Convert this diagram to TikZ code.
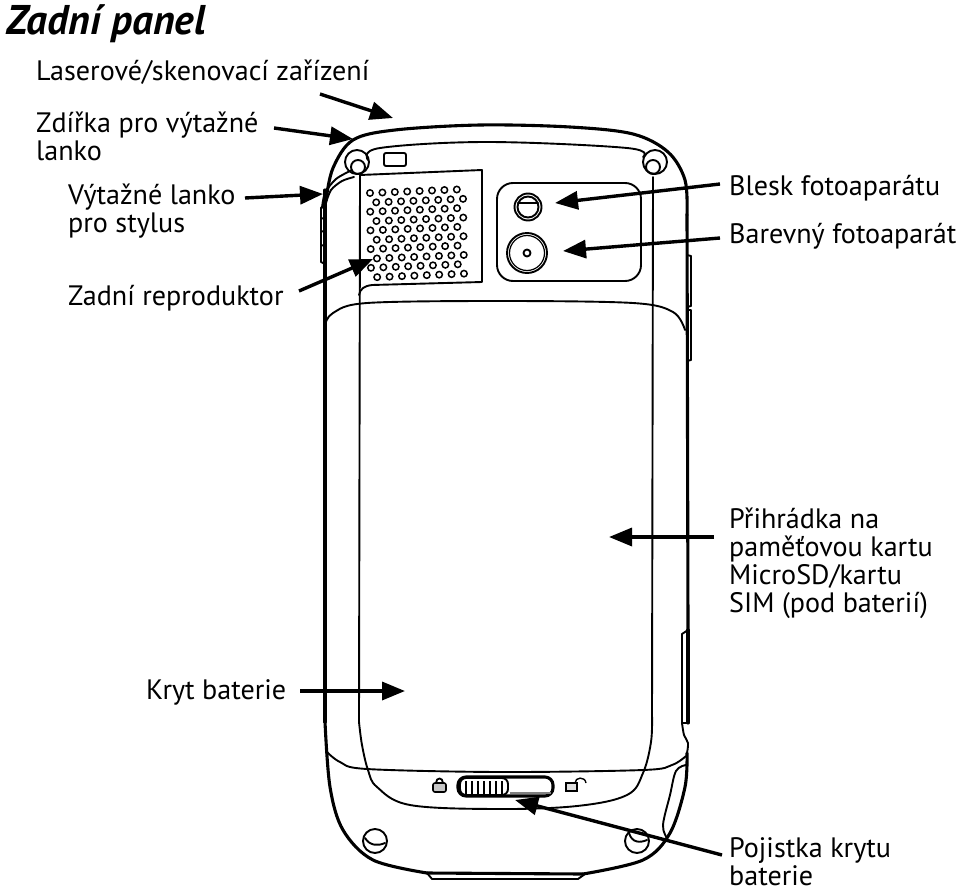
\documentclass[tikz,border=0pt]{standalone}
\usepackage{fontspec}
\setmainfont{PT Sans}
\usetikzlibrary{arrows.meta}
\tikzset{
  lbl/.style={inner sep=0pt,anchor=base west,align=left,font=\fontsize{28.1}{28}\selectfont},
  callout/.style={line width=3.4pt,-{Triangle[length=23pt,width=18pt]},black},
  outline/.style={line width=3.1pt,line join=round,line cap=round,black},
  medline/.style={line width=1.9pt,line join=round,line cap=round,black},
  thinl/.style={line width=1.2pt,line join=round,line cap=round,black},
}
\begin{document}
\begin{tikzpicture}[x=1pt,y=-1pt]
\useasboundingbox (0,0) rectangle (960,891);
% body outline
\draw[outline] plot[smooth,tension=.55] coordinates {(326,200) (333,168) (353,140) (395,130) (480,125) (570,127) (633,134) (668,152) (685,180) (687,215)};
\draw[outline] (687,215) -- (688,630);
\draw[outline] (325,190) -- (325,722);
\draw[outline] plot[smooth,tension=.55] coordinates {(325,722) (330,787) (343,830) (373,860) (427,873)};
\draw[outline] (427,873) -- (583,874);
\draw[outline] plot[smooth,tension=.55] coordinates {(583,874) (643,860) (670,833) (685,787) (687,753)};
\draw[medline] (427,873) -- (432,879) -- (578,879) -- (585,874);
% right side details
\draw[medline] (687,255) -- (691,256) -- (691,306) -- (687,307) (687,310) -- (691,310) -- (691,360) -- (687,361);
\draw[medline] (688,630) -- (682,634) -- (682,723) -- (688,723);
\draw[outline] (688,630) -- (688,723);
\draw[medline] plot[smooth] coordinates {(682,723) (684,735) (688,743) (687,753)};
\draw[medline] plot[smooth,tension=.6] coordinates {(686,765) (676,771) (670,795) (663,825) (667,838)};
% left side buttons
\draw[medline] (325,203) -- (321,208) -- (321,262) -- (325,264);
\draw[medline] (321,218) -- (325,219) (321,231) -- (325,232) (321,245) -- (325,246);
% lanyard
\draw[medline] plot[smooth] coordinates {(322,208) (325,193) (336,179) (352,170)};
\draw[medline] plot[smooth] coordinates {(326,203) (331,190) (342,181) (354,177)};
% inner top arc
\draw[medline] plot[smooth,tension=.6] coordinates {(368,160) (380,148) (487,142) (627,148) (643,157)};
% screws
\draw[medline] (357,162) circle (12);
\draw[medline] (358,167) circle (7);
\draw[medline] (655,162) circle (12);
\draw[medline] (653,167) circle (7);
\draw[medline] (375,841) circle (12);
\draw[medline] (365,838) .. controls (370,846) and (378,846) .. (385,843);
\draw[medline] (637,841) circle (12);
\draw[medline] (629,833) .. controls (632,843) and (640,843) .. (647,840);
% camera
\draw[medline,rounded corners=16pt] (497,183) rectangle (641,281);
\draw[medline] (528,207) circle (13.5);
\draw[medline] (528,207) circle (10.5);
\draw[medline] (518,203) -- (538,203);
\draw[medline] (527,253) circle (20);
\draw[thinl] (527,253) circle (17.5);
\draw[medline] (527,253) circle (3.5);
% small rectangle
\draw[medline,rounded corners=2pt] (384,153) rectangle (406,166);
% speaker grille
\draw[medline] (360,175) -- (482,170) -- (482,282) -- (372,285) .. controls (364,286) and (360,289) .. (359,295);
\foreach \r in {0,...,9}{
  \pgfmathsetmacro{\ofs}{mod(\r,2)*6.1+\r*0.12}
  \foreach \c in {0,...,7}{
    \pgfmathsetmacro{\xx}{370+\c*12.4+\ofs}
    \pgfmathsetmacro{\yy}{193+\r*9.35-\c*0.5}
    \draw[line width=1.5pt] (\xx,\yy) circle (3.2);
  }
}
% panel outline
\draw[medline] (360,175) -- (359,722);
\draw[medline] plot[smooth,tension=.6] coordinates {(359,722) (362,745) (368,770) (377,787) (410,805) (497,809) (577,806) (627,795) (643,773) (651,742) (652,715)};
\draw[medline] (653,177) -- (652,715);
% battery cover
\draw[medline] plot[smooth,tension=.55] coordinates {(325,325) (333,313) (367,303) (500,301) (633,303) (673,312) (685,330)};
\draw[medline] plot[smooth,tension=.55] coordinates {(326,751) (340,762) (367,769) (500,772) (643,770) (672,765) (686,756)};
% latch
\draw[outline,rounded corners=8pt] (458,777) rectangle (553,796);
\draw[medline,rounded corners=6pt] (460,778) rectangle (508,795);
\foreach \q in {466,472,478,484,490,496,502}{\draw[line width=1.9pt] (\q,781) -- (\q,794);}
\draw[line width=1.4pt,gray] (510,793) -- (551,793);
% lock icons
\draw[line width=1.6pt,fill=gray!45,rounded corners=2pt] (433,783) rectangle (446,792);
\draw[line width=1.8pt] (436,783) .. controls (436,777) and (443,777) .. (443,783);
\draw[line width=1.6pt,fill=gray!25] (566,783) rectangle (577,791);
\draw[line width=1.4pt] (575,783) .. controls (575,777) and (585,776) .. (586,783);
% labels
\node[inner sep=0pt,anchor=base west,font=\fontsize{41.5}{44}\selectfont\bfseries\itshape] (title) at (6,35) {Zadní panel};
\node[lbl] (laser) at (36,81) {Laserové/skenovací zařízení};
\node[lbl] (jack) at (36,160) {Zdířka pro výtažné\\lanko};
\node[lbl] (lany) at (68,232) {Výtažné lanko\\pro stylus};
\node[lbl] (rep) at (68,305) {Zadní reproduktor};
\node[lbl] (flash) at (729,195) {Blesk fotoaparátu};
\node[lbl] (cam) at (729,243) {Barevný fotoaparát};
\node[lbl] (sd) at (729,612) {Přihrádka na\\paměťovou kartu\\MicroSD/kartu\\SIM (pod baterií)};
\node[lbl] (kryt) at (146,699) {Kryt baterie};
\node[lbl] (poj) at (729,885) {Pojistka krytu\\baterie};
% connectors
\coordinate (t1) at (320,94);  \coordinate (h1) at (393,118);
\coordinate (t2) at (274,128); \coordinate (h2) at (353,139);
\coordinate (t3) at (245,198); \coordinate (h3) at (323,194);
\coordinate (t4) at (299,291); \coordinate (h4) at (373,259);
\coordinate (t5) at (720,184); \coordinate (h5) at (555,203);
\coordinate (t6) at (720,238); \coordinate (h6) at (563,251);
\coordinate (t7) at (714,537); \coordinate (h7) at (609,537);
\coordinate (t8) at (300,691); \coordinate (h8) at (405,691);
\coordinate (t9) at (722,855); \coordinate (h9) at (515,800);
\foreach \i in {1,...,9}{\draw[callout] (t\i) -- (h\i);}
\end{tikzpicture}
\end{document}
